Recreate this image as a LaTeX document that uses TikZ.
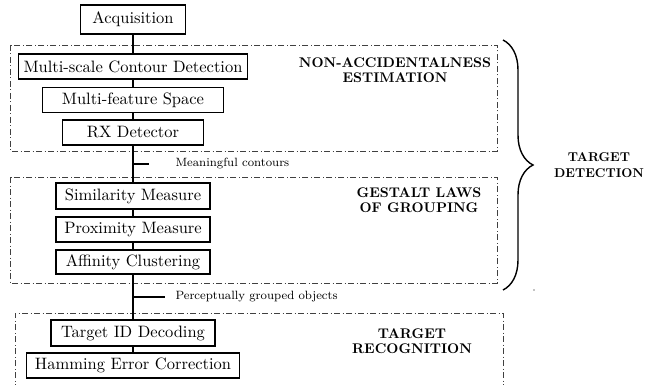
\documentclass[tikz,border=0pt]{standalone}
\usepackage{fontspec}
\setmainfont{lmroman10-regular.otf}[BoldFont=lmroman10-bold.otf]
\newfontfamily\smallrm{lmroman8-regular.otf}
\usetikzlibrary{decorations.pathreplacing}
\begin{document}
\begin{tikzpicture}[x=1pt,y=-1pt,
  box/.style={draw, line width=1.1pt, font=\fontsize{16.5}{19}\selectfont, minimum height=25pt, inner sep=0pt},
  conn/.style={line width=1.3pt},
  group/.style={draw=black!75, line width=0.9pt, dash pattern=on 6pt off 2.5pt on 1pt off 2.5pt},
  heading/.style={font=\fontsize{14}{15.5}\selectfont\bfseries, align=center},
  lbl/.style={font=\smallrm\fontsize{12}{15}\selectfont, anchor=west}]
\useasboundingbox (0,0) rectangle (645,385);

% group frames
\draw[group] (10,45) rectangle (497,151);
\draw[group] (10,177) rectangle (497,283);
\draw[group] (15,390) -- (15,313) -- (503,313) -- (503,390);

% boxes
\node[box, minimum width=105pt, minimum height=29pt] (acq) at (133,19.5) {Acquisition};
\node[box, minimum width=229pt] (msc) at (133,66.5) {Multi-scale Contour Detection};
\node[box, minimum width=181pt] (mfs) at (133,100) {Multi-feature Space};
\node[box, minimum width=141pt] (rx) at (133,132.5) {RX Detector};
\node[box, minimum width=154pt, minimum height=26pt] (sim) at (133,196) {Similarity Measure};
\node[box, minimum width=154pt] (prox) at (133,229.5) {Proximity Measure};
\node[box, minimum width=154pt, minimum height=24pt] (aff) at (133,262) {Affinity Clustering};
\node[box, minimum width=164pt, minimum height=26pt] (tid) at (133,333) {Target ID Decoding};
\node[box, minimum width=213pt] (ham) at (133,365.5) {Hamming Error Correction};

% connectors
\draw[conn] (acq) -- (msc);
\draw[conn] (msc) -- (mfs);
\draw[conn] (mfs) -- (rx);
\draw[conn] (rx) -- (sim);
\draw[conn] (sim) -- (prox);
\draw[conn] (prox) -- (aff);
\draw[conn] (aff) -- (tid);
\draw[conn] (tid) -- (ham);

% side labels with ticks
\coordinate (t1) at (149,164);
\coordinate (t2) at (165,297);
\draw[conn] (t1 -| rx) -- (t1);
\draw[conn] (t2 -| aff) -- (t2);
\node[lbl] (mc) at (172,164) {Meaningful contours};
\node[lbl] (pg) at (172,297) {Perceptually grouped objects};

% headings
\node[heading] (nae) at (395,70) {NON-ACCIDENTALNESS\\ESTIMATION};
\node[heading] (gl) at (419,200) {GESTALT LAWS\\OF GROUPING};
\node[heading] (tr) at (412,341) {TARGET\\RECOGNITION};
\node[heading, font=\fontsize{12.8}{15.5}\selectfont\bfseries] (td) at (599,165) {TARGET\\DETECTION};

% brace
\draw[line width=1.4pt, decorate, decoration={brace, amplitude=30pt}] (503,40) -- (503,290);
\node[circle, fill, inner sep=0pt, minimum size=1.3pt] (dot) at (534,290) {};
\end{tikzpicture}
\end{document}
